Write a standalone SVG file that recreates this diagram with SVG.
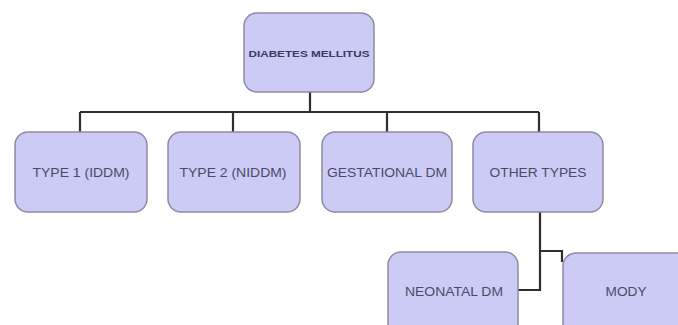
<svg xmlns="http://www.w3.org/2000/svg" width="678" height="325" viewBox="0 0 678 325">
<style>
.box{fill:#cbcbf6;stroke:#8c8ca4;stroke-width:1.5}
.lbl{font-family:"Liberation Sans",Arial,sans-serif;font-size:12px;fill:#4a4a68;text-anchor:middle;dominant-baseline:central}
.ttl{font-family:"Liberation Sans",Arial,sans-serif;font-size:9px;font-weight:bold;fill:#3a3a60;text-anchor:middle;dominant-baseline:central}
.con{fill:none;stroke:#2e2e2e;stroke-width:2.2}
</style>
<rect width="678" height="325" fill="#ffffff"/>
<g id="connectors">
<path class="con" d="M310 92V112M80 112H539M80 112V132M233 112V132M387 112V132M539 112V132"/>
<path class="con" d="M540 212V290H518M540 251H562V262"/>
</g>
<g id="diabetes-mellitus">
<rect class="box" x="244" y="13" width="130" height="79" rx="13"/>
<text class="ttl" x="309" y="54" textLength="121" lengthAdjust="spacingAndGlyphs">DIABETES MELLITUS</text>
</g>
<g id="type1">
<rect class="box" x="15" y="132" width="132" height="80" rx="13"/>
<text class="lbl" x="81" y="173" textLength="97" lengthAdjust="spacingAndGlyphs">TYPE 1 (IDDM)</text>
</g>
<g id="type2">
<rect class="box" x="168" y="132" width="132" height="80" rx="13"/>
<text class="lbl" x="233" y="173" textLength="107" lengthAdjust="spacingAndGlyphs">TYPE 2 (NIDDM)</text>
</g>
<g id="gestational">
<rect class="box" x="322" y="132" width="130" height="80" rx="13"/>
<text class="lbl" x="387" y="173" textLength="120" lengthAdjust="spacingAndGlyphs">GESTATIONAL DM</text>
</g>
<g id="other-types">
<rect class="box" x="473" y="132" width="130" height="80" rx="13"/>
<text class="lbl" x="538" y="173" textLength="97" lengthAdjust="spacingAndGlyphs">OTHER TYPES</text>
</g>
<g id="neonatal">
<rect class="box" x="388" y="252" width="130" height="90" rx="13"/>
<text class="lbl" x="454" y="292" textLength="98" lengthAdjust="spacingAndGlyphs">NEONATAL DM</text>
</g>
<g id="mody">
<rect class="box" x="563" y="253" width="130" height="90" rx="13"/>
<text class="lbl" x="626" y="292" textLength="41" lengthAdjust="spacingAndGlyphs">MODY</text>
</g>
</svg>
